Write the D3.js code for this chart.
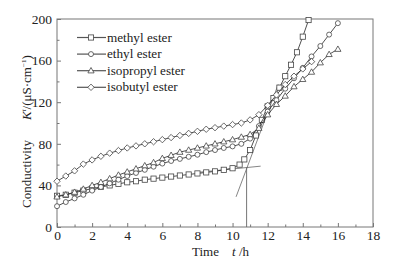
<!DOCTYPE html>
<html>
<head>
<meta charset="utf-8">
<script src="https://cdn.jsdelivr.net/npm/d3@7"></script>
<style>
  body { margin: 0; background: #fff; }
  svg text { font-family: "Liberation Serif", "Times New Roman", Times, "DejaVu Serif", serif !important; fill: #222; }
</style>
</head>
<body>
<div id="chart"></div>
<script>
// times (h) and conductivity values
const methylT = [0, 0.5, 1, 1.5, 2, 2.5, 3, 3.5, 4, 4.5, 5, 5.5, 6, 6.5, 7, 7.5, 8, 8.5, 9, 9.5, 10, 10.4, 10.67, 11, 11.33, 11.67, 12, 12.33, 12.67, 13, 13.33, 13.67, 14, 14.33];
const methylK = [30, 31, 33, 35, 37, 38.5, 40, 41.5, 43, 44, 45.5, 46.5, 47.5, 48.5, 49.5, 50.5, 51.5, 52.5, 53.5, 55, 56.5, 60, 65, 74, 88, 103, 116, 124, 134, 145, 156, 168, 183, 199];

const stepT = [0, 0.5, 1, 1.5, 2, 2.5, 3, 3.5, 4, 4.5, 5, 5.5, 6, 6.5, 7, 7.5, 8, 8.5, 9, 9.5, 10, 10.5, 11, 11.5, 12, 12.5, 13, 13.5, 14, 14.5, 15, 15.5, 16];
const ethylK = [20, 24, 27.5, 31, 35, 38.5, 42, 45.5, 49, 52, 55, 58, 61, 63.5, 65.5, 67.5, 69.5, 72, 74, 76, 77.5, 80, 85, 97, 111, 122, 133, 143, 153, 164, 174, 185, 196];
const isopropylK = [29, 31, 33.5, 36.5, 40, 43, 46.5, 50, 53, 56, 59, 62, 66, 69, 72, 74, 76, 78, 80, 82, 84, 86.5, 89, 95, 108, 118, 126, 135, 142, 149, 158, 166, 171];
const isobutylT = stepT.slice(0, 30);
const isobutylK = [44, 49, 54, 60.5, 64.5, 68, 71, 73.5, 76, 78, 80, 82, 84, 86, 88, 90, 92, 94, 95.5, 97, 98.5, 100, 103, 108, 117, 127, 137, 145, 152, 159];

const seriesNames = ["methyl ester", "ethyl ester", "isopropyl ester", "isobutyl ester"];
const seriesMarks = ["square", "circle", "triangle", "diamond"];

// tangent construction on the methyl curve
const tangentFlat = [[8, 52.5], [11.6, 58.5]];
const tangentSteep = [[10.2, 29], [12.6, 137]];
const onsetT = 10.8;
const onsetK = 57;

const xTicks = [0, 2, 4, 6, 8, 10, 12, 14, 16, 18];
const yTicks = [0, 40, 80, 120, 160, 200];

const width = 393, height = 262;
const margin = { top: 19, right: 20, bottom: 35, left: 57 };

const svg = d3.select("#chart").append("svg")
  .attr("width", width)
  .attr("height", height);

const x = d3.scaleLinear().domain([0, 18]).range([margin.left, width - margin.right]);
const y = d3.scaleLinear().domain([0, 200]).range([height - margin.bottom, margin.top]);

const axisColor = "#777";

// frame
svg.append("rect")
  .attr("x", x(0)).attr("y", y(200))
  .attr("width", x(18) - x(0)).attr("height", y(0) - y(200))
  .attr("fill", "none").attr("stroke", axisColor).attr("stroke-width", 1);

// axes with inward ticks
const xAxis = d3.axisBottom(x).tickValues(xTicks).tickSize(-4).tickPadding(3);
const xMinor = d3.axisBottom(x).tickValues(d3.range(1, 18, 2)).tickSize(-2.5).tickFormat("");
const yAxis = d3.axisLeft(y).tickValues(yTicks).tickSize(-4).tickPadding(5);
const yMinor = d3.axisLeft(y).tickValues(d3.range(20, 200, 40)).tickSize(-2.5).tickFormat("");

function styleAxis(g) {
  g.select(".domain").remove();
  g.selectAll("line").attr("stroke", axisColor);
  g.selectAll("text").attr("font-size", 13.5).attr("fill", "#222");
}

svg.append("g").attr("transform", `translate(0,${y(0)})`).call(xAxis).call(styleAxis);
svg.append("g").attr("transform", `translate(0,${y(0)})`).call(xMinor).call(styleAxis);
svg.append("g").attr("transform", `translate(${x(0)},0)`).call(yAxis).call(styleAxis);
svg.append("g").attr("transform", `translate(${x(0)},0)`).call(yMinor).call(styleAxis);

// axis titles
const xTitle = svg.append("text")
  .attr("y", 256)
  .attr("font-size", 13);
xTitle.append("tspan").attr("x", 192).text("Time");
xTitle.append("tspan").attr("x", 232).attr("font-style", "italic").text("t");
xTitle.append("tspan").text(" /h");

const yTitle = svg.append("text")
  .attr("transform", "translate(31,208) rotate(-90)")
  .attr("font-size", 13);
yTitle.append("tspan").text("Conductivity");
yTitle.append("tspan").attr("x", 88).attr("font-style", "italic").text("K");
yTitle.append("tspan").attr("font-size", 7).attr("font-style", "italic").attr("dy", -5).text("t");
yTitle.append("tspan").attr("dy", 5).text("/(μS·cm");
yTitle.append("tspan").attr("font-size", 7).attr("dy", -5).text("−1");
yTitle.append("tspan").attr("dy", 5).text(")");

// tangent lines
const line = d3.line().x(d => x(d[0])).y(d => y(d[1]));
svg.append("path").attr("d", line(tangentFlat)).attr("fill", "none").attr("stroke", "#666").attr("stroke-width", 0.8);
svg.append("path").attr("d", line(tangentSteep)).attr("fill", "none").attr("stroke", "#666").attr("stroke-width", 0.8);
svg.append("path").attr("d", line([[onsetT, 0], [onsetT, onsetK]])).attr("fill", "none").attr("stroke", "#666").attr("stroke-width", 0.9);

// marker shapes
function drawMarker(g, kind, cx, cy) {
  const st = { fill: "#fff", stroke: "#444", "stroke-width": 0.8 };
  let el;
  if (kind === "square") {
    el = g.append("rect").attr("x", cx - 2.6).attr("y", cy - 2.6).attr("width", 5.2).attr("height", 5.2);
  } else if (kind === "circle") {
    el = g.append("circle").attr("cx", cx).attr("cy", cy).attr("r", 2.5);
  } else if (kind === "triangle") {
    el = g.append("path").attr("d", `M${cx},${cy - 3.2}L${cx + 3.1},${cy + 2.2}L${cx - 3.1},${cy + 2.2}Z`);
  } else {
    el = g.append("path").attr("d", `M${cx},${cy - 3.2}L${cx + 3.2},${cy}L${cx},${cy + 3.2}L${cx - 3.2},${cy}Z`);
  }
  Object.entries(st).forEach(([k, v]) => el.attr(k, v));
}

const seriesData = [
  d3.zip(methylT, methylK),
  d3.zip(stepT, ethylK),
  d3.zip(stepT, isopropylK),
  d3.zip(isobutylT, isobutylK)
];

seriesData.forEach((pts, i) => {
  const g = svg.append("g");
  g.append("path").attr("d", line(pts)).attr("fill", "none").attr("stroke", "#222").attr("stroke-width", 0.8);
  pts.forEach(p => drawMarker(g, seriesMarks[i], x(p[0]), y(p[1])));
});

// legend
const legend = svg.append("g");
seriesNames.forEach((name, i) => {
  const ly = 37.5 + i * 16.6;
  legend.append("line").attr("x1", 77).attr("x2", 106).attr("y1", ly).attr("y2", ly)
    .attr("stroke", "#555").attr("stroke-width", 1.2);
  drawMarker(legend, seriesMarks[i], 91, ly);
  legend.append("text").attr("x", 107).attr("y", ly + 4).attr("font-size", 13.2).text(name);
});
</script>
</body>
</html>
